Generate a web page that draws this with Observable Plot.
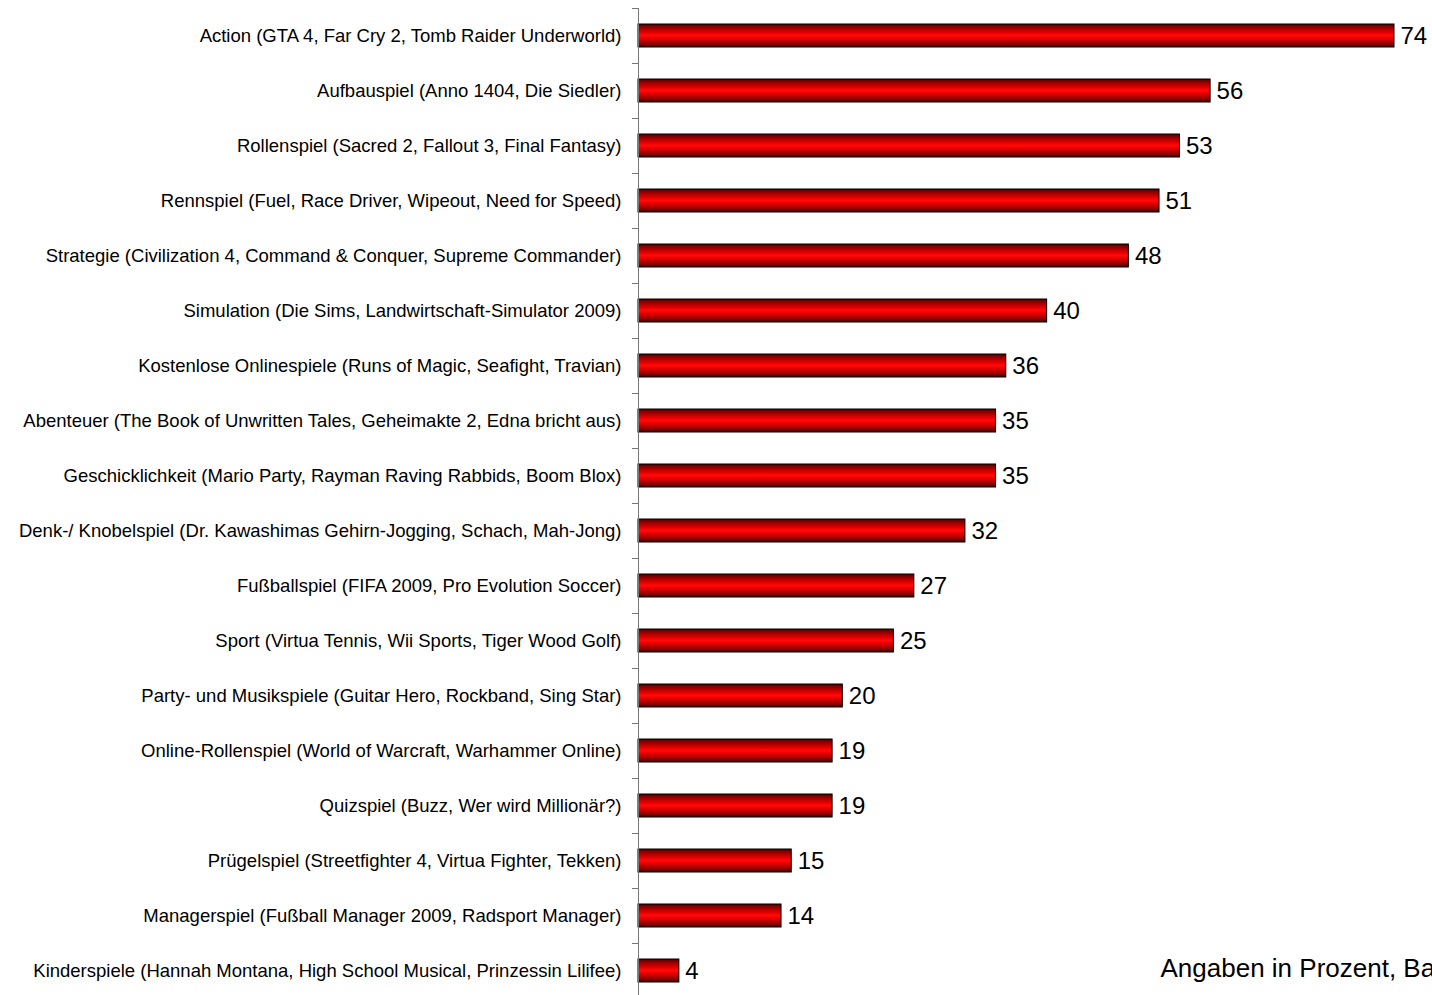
<!DOCTYPE html>
<html>
<head>
<meta charset="utf-8">
<script src="https://cdn.jsdelivr.net/npm/d3@7"></script>
<script src="https://cdn.jsdelivr.net/npm/@observablehq/plot@0.6"></script>
<style>
  html, body { margin: 0; padding: 0; background: #fff; overflow: hidden; }
  #chart svg { display: block; }
</style>
</head>
<body>
<div id="chart"></div>
<script>
const categories = [
  "Action (GTA 4, Far Cry 2, Tomb Raider Underworld)",
  "Aufbauspiel (Anno 1404, Die Siedler)",
  "Rollenspiel (Sacred 2, Fallout 3, Final Fantasy)",
  "Rennspiel (Fuel, Race Driver, Wipeout, Need for Speed)",
  "Strategie (Civilization 4, Command & Conquer, Supreme Commander)",
  "Simulation (Die Sims, Landwirtschaft-Simulator 2009)",
  "Kostenlose Onlinespiele (Runs of Magic, Seafight, Travian)",
  "Abenteuer (The Book of Unwritten Tales, Geheimakte 2, Edna bricht aus)",
  "Geschicklichkeit (Mario Party, Rayman Raving Rabbids, Boom Blox)",
  "Denk-/ Knobelspiel (Dr. Kawashimas Gehirn-Jogging, Schach, Mah-Jong)",
  "Fußballspiel (FIFA 2009, Pro Evolution Soccer)",
  "Sport (Virtua Tennis, Wii Sports, Tiger Wood Golf)",
  "Party- und Musikspiele (Guitar Hero, Rockband, Sing Star)",
  "Online-Rollenspiel (World of Warcraft, Warhammer Online)",
  "Quizspiel (Buzz, Wer wird Millionär?)",
  "Prügelspiel (Streetfighter 4, Virtua Fighter, Tekken)",
  "Managerspiel (Fußball Manager 2009, Radsport Manager)",
  "Kinderspiele (Hannah Montana, High School Musical, Prinzessin Lilifee)"
];
const values = [74, 56, 53, 51, 48, 40, 36, 35, 35, 32, 27, 25, 20, 19, 19, 15, 14, 4];
const footnote = "Angaben in Prozent, Basis";

const data = categories.map((c, i) => ({category: c, value: values[i]}));
const font = "Arial, 'Liberation Sans', Helvetica, sans-serif";

const gradientDefs = () => {
  const g = d3.create("svg:g");
  const grad = g.append("defs").append("linearGradient")
    .attr("id", "barGrad").attr("x1", 0).attr("y1", 0).attr("x2", 0).attr("y2", 1);
  [[0, "#4a0000"], [0.12, "#8a0000"], [0.4, "#f00000"], [0.5, "#ff0a0a"], [0.6, "#f00000"], [0.88, "#8a0000"], [1, "#3a0000"]]
    .forEach(([o, c]) => grad.append("stop").attr("offset", o).attr("stop-color", c));
  return g.node();
};

const chart = Plot.plot({
  width: 1432,
  height: 998,
  marginLeft: 638,
  marginRight: 0,
  marginTop: 8,
  marginBottom: 0,
  style: {fontFamily: font, background: "#fff", color: "#000", overflow: "hidden"},
  x: {domain: [0, 77.72], axis: null},
  y: {domain: categories, padding: 0, axis: null},
  marks: [
    gradientDefs,
    Plot.barX(data, {
      y: "category", x: "value",
      insetTop: 16, insetBottom: 16,
      fill: "url(#barGrad)", stroke: "#000", strokeWidth: 1
    }),
    Plot.text(data, {
      y: "category", x: "value", text: d => String(d.value),
      textAnchor: "start", dx: 6, fontSize: 24, fill: "#000"
    }),
    Plot.axisY({
      label: null, tickSize: 0, tickPadding: 17, fontSize: 18.5, fill: "#000", textAnchor: "end"
    }),
    Plot.ruleY(categories, {
      y: d => d, dy: -27.5, x1: 0, x2: 0, insetLeft: -6, stroke: "#777", strokeWidth: 1
    }),
    Plot.ruleX([0], {stroke: "#777", strokeWidth: 1}),
    Plot.text([footnote], {
      text: d => d, frameAnchor: "bottom-left", dx: 522, dy: -22,
      textAnchor: "start", fontSize: 26, fill: "#000"
    })
  ]
});
document.getElementById("chart").appendChild(chart);
</script>
</body>
</html>
